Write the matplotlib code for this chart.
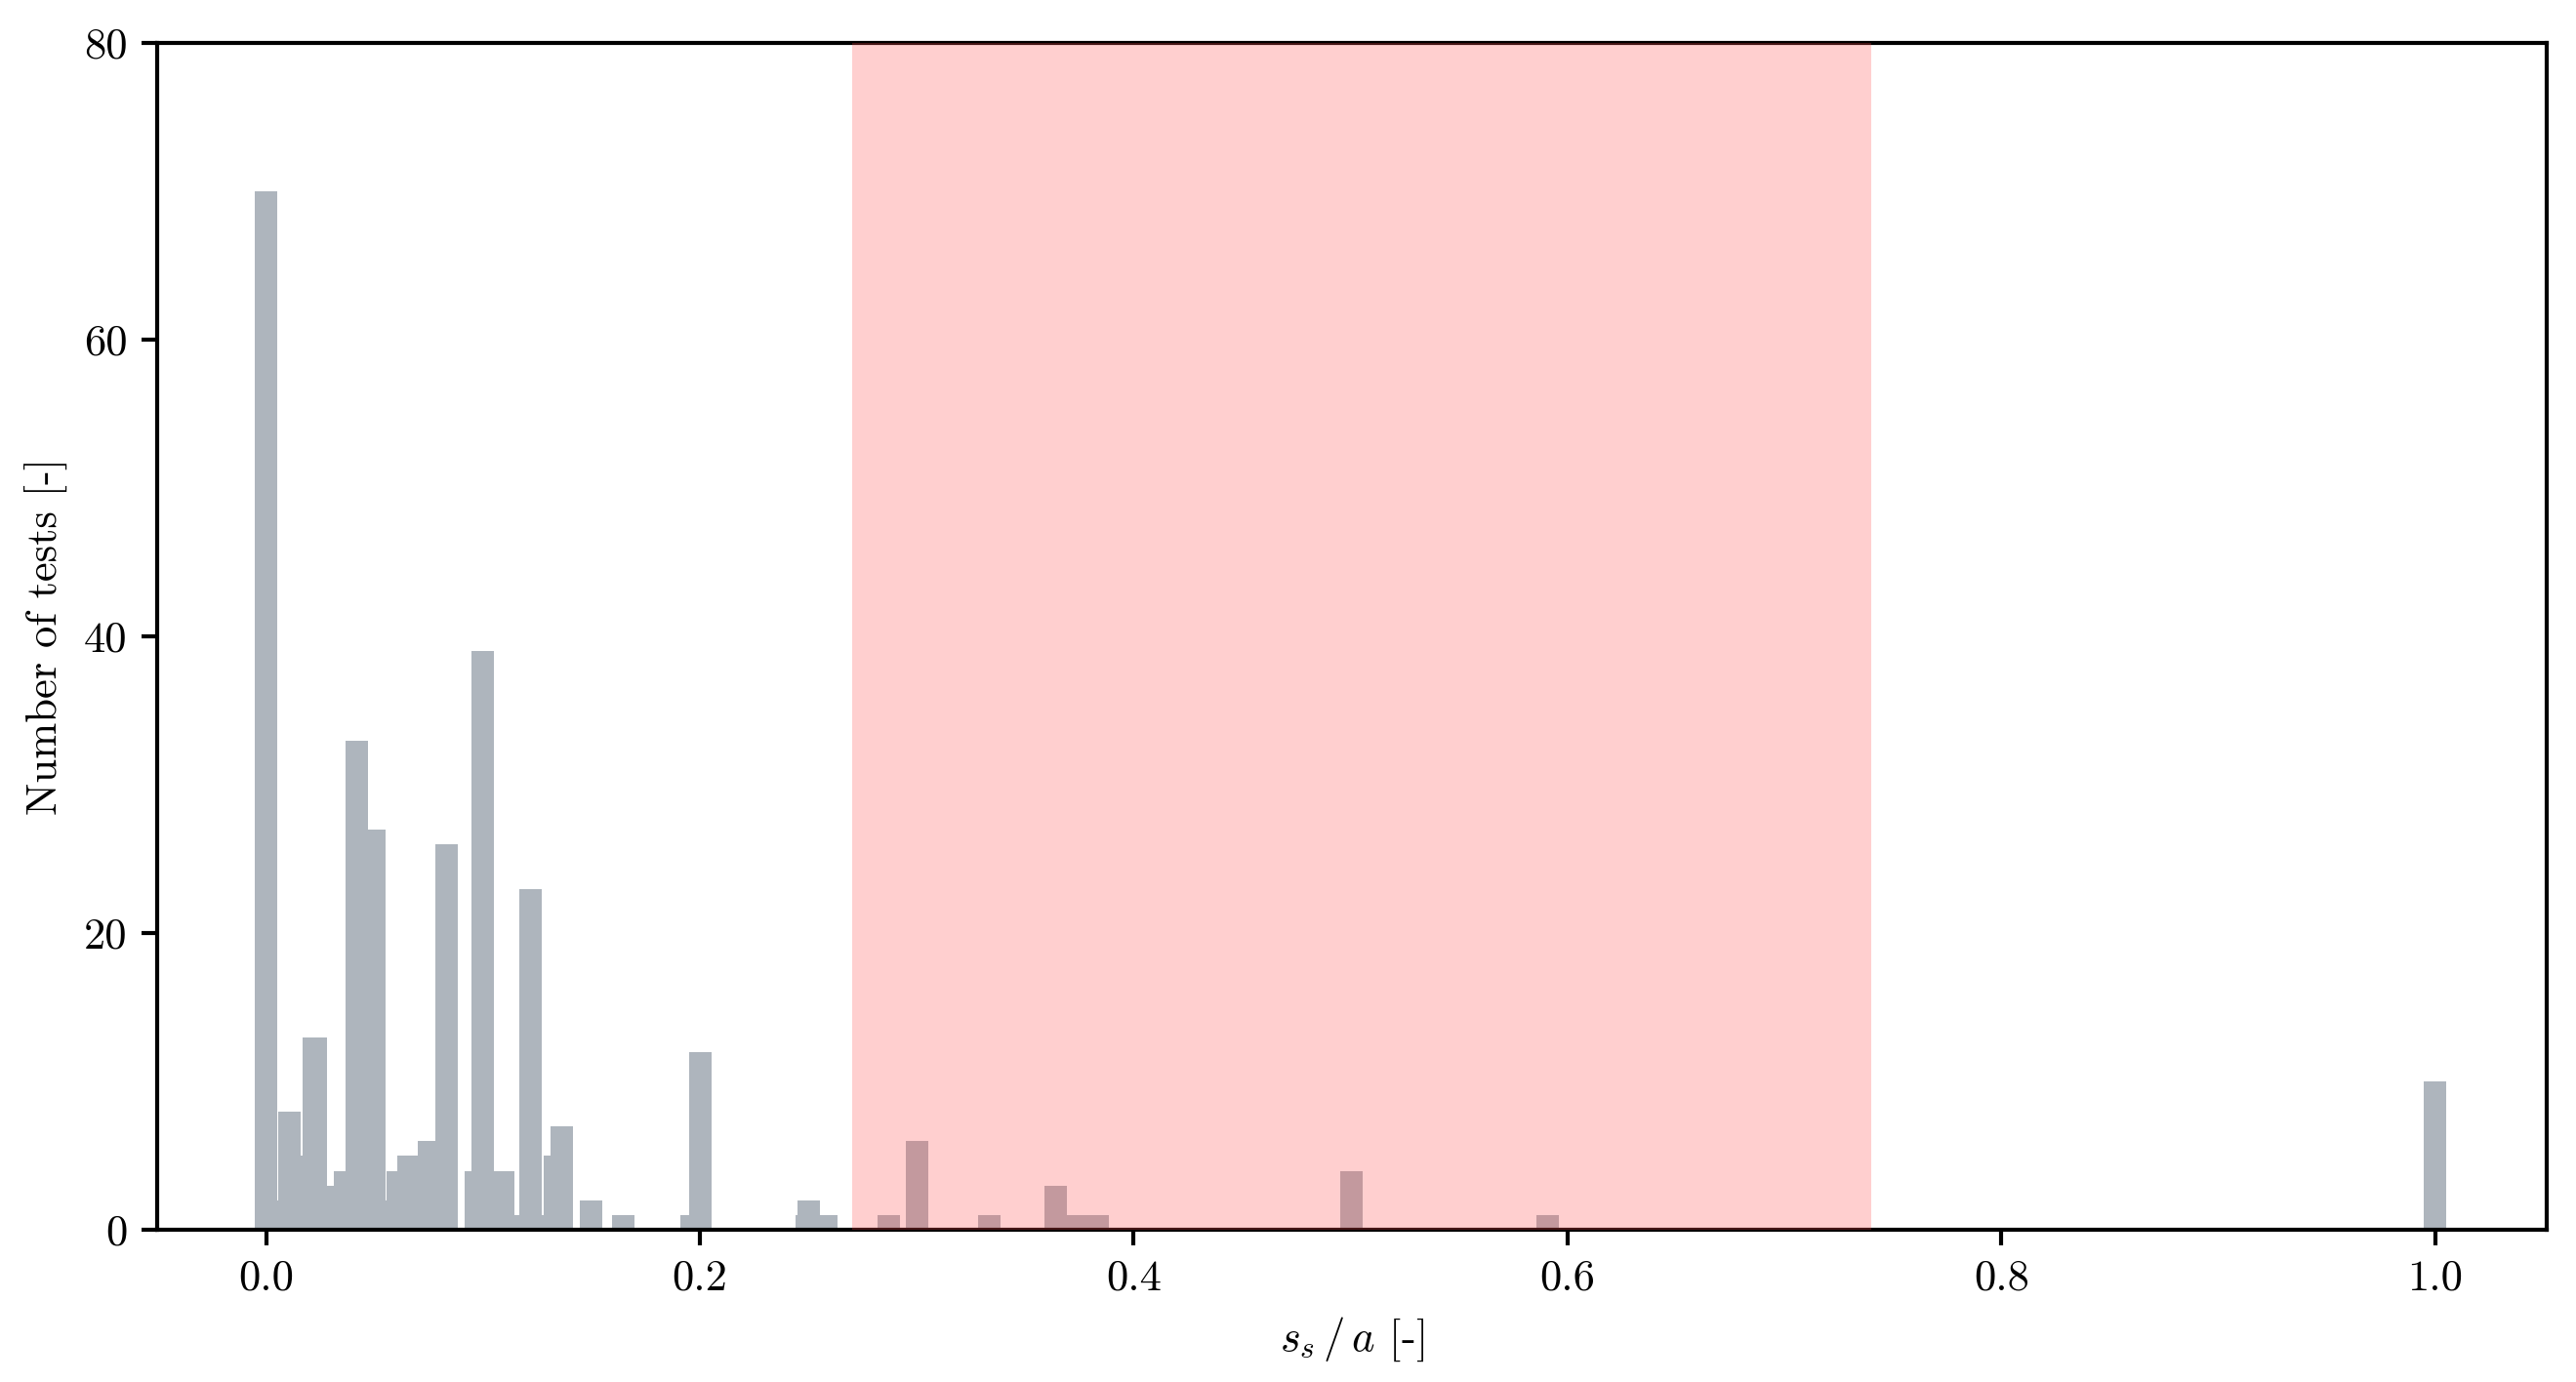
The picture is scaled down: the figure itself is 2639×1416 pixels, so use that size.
# Histograma de ensayos según s_s/a
# barras por valor + zona sombreada en rojo

import matplotlib
matplotlib.use("Agg")  # Renderizado sin pantalla
import matplotlib.pyplot as plt

# ----------- Datos -------------
# centro de cada barra (s_s/a) y número de ensayos
S_S_A = [0.0, 0.0003, 0.0106, 0.0115, 0.0219, 0.0228, 0.0259, 0.0363,
         0.0417, 0.0498, 0.0502, 0.0606, 0.0656, 0.0750, 0.0833, 0.0966,
         0.1000, 0.1092, 0.1196, 0.1218, 0.1322, 0.1331, 0.1363, 0.1500,
         0.1646, 0.1962, 0.2002, 0.2493, 0.2502, 0.2583, 0.2872, 0.3002,
         0.3335, 0.3640, 0.3745, 0.3835, 0.5005, 0.5908, 1.0]
N_TESTS = [70, 2, 8, 5, 13, 13, 3, 4,
           33, 27, 2, 4, 5, 6, 26, 4,
           39, 4, 1, 23, 1, 5, 7, 2,
           1, 1, 12, 1, 2, 1, 1, 6,
           1, 3, 1, 1, 4, 1, 10]

# zona sombreada
ZONA = (0.27, 0.74)

Y_TICKS = [0, 20, 40, 60, 80]
X_TICKS = [0.0, 0.2, 0.4, 0.6, 0.8, 1.0]

# ----------- Colores -------------
COLOR_BARRA = "#aeb5bd"
COLOR_ZONA = (1.0, 78 / 255, 78 / 255)
ALPHA_ZONA = 0.27

ANCHO_BARRA = 0.0104

plt.rcParams["font.family"] = "serif"
plt.rcParams["font.serif"] = ["cmr10"]
plt.rcParams["mathtext.fontset"] = "cm"
plt.rcParams["axes.unicode_minus"] = False
plt.rcParams["axes.formatter.use_mathtext"] = True
plt.rcParams["font.size"] = 10.7


def generar_grafico(ruta_salida: str) -> None:
    W, H = 2639, 1416
    fig = plt.figure(figsize=(W / 300, H / 300), dpi=300)
    ax = fig.add_axes([161 / W, 1 - 1260.3 / H, (2609.3 - 161) / W, (1260.3 - 44.3) / H])

    ax.bar(S_S_A, N_TESTS, width=ANCHO_BARRA, color=COLOR_BARRA, linewidth=0, zorder=2)
    # la zona va encima (tiñe barras y ejes)
    ax.axvspan(ZONA[0], ZONA[1], color=COLOR_ZONA, alpha=ALPHA_ZONA, lw=0, zorder=3)

    ax.set_xlim(-0.0502, 1.0515)
    ax.set_ylim(0, 80)
    ax.set_xticks(X_TICKS)
    ax.set_xticklabels([f"{t:.1f}" for t in X_TICKS])
    ax.set_yticks(Y_TICKS)
    ax.set_yticklabels([str(t) for t in Y_TICKS])

    for s in ax.spines.values():
        s.set_linewidth(1.0)
    ax.tick_params(length=3.8, width=1.0)

    ax.set_xlabel(r"$s_s\,/\,a$ [-]")
    ax.set_ylabel("Number of tests [-]")

    fig.savefig(ruta_salida, dpi=300)
    plt.close(fig)


if __name__ == "__main__":
    generar_grafico("out.png")
